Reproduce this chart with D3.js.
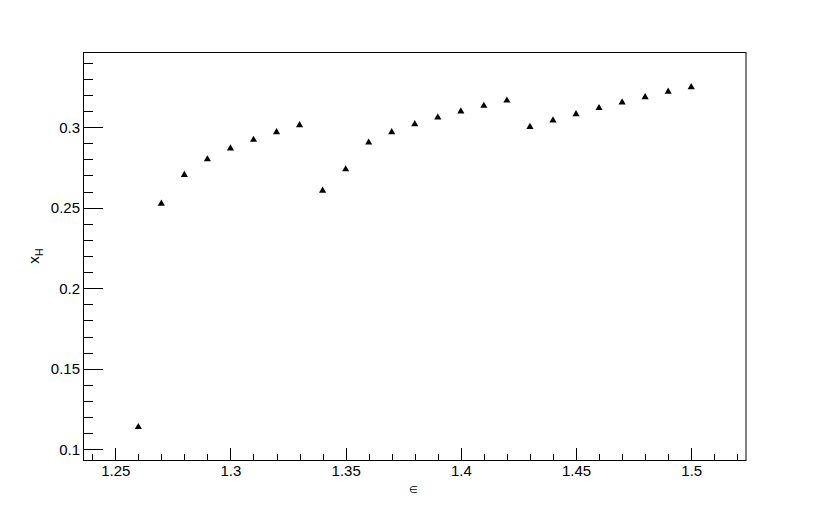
<!DOCTYPE html>
<meta charset='utf-8'>
<head>
  <style>
    body { margin: 0; background: #fff; }
    svg { display: block; }
    .axis text { font: 15px 'Liberation Sans', Arial, sans-serif; fill: #000; }
    .axis path, .axis line { fill: none; stroke: #000; stroke-width: 1; shape-rendering: crispEdges; }
    .title { font: 15px 'Liberation Sans', Arial, sans-serif; fill: #000; }
  </style>
</head>
<body>
<script src='https://d3js.org/d3.v7.min.js'></script>
<script>

// epsilon values (x) and x_H values (y)
var eps = [1.26, 1.27, 1.28, 1.29, 1.30, 1.31, 1.32, 1.33, 1.34, 1.35, 1.36, 1.37, 1.38,
           1.39, 1.40, 1.41, 1.42, 1.43, 1.44, 1.45, 1.46, 1.47, 1.48, 1.49, 1.50];
var xH = [0.1144, 0.2531, 0.2710, 0.2807, 0.2875, 0.2928, 0.2975, 0.3019, 0.2612, 0.2745,
          0.2911, 0.2975, 0.3025, 0.3067, 0.3104, 0.3139, 0.3172, 0.3008, 0.3048, 0.3087,
          0.3125, 0.3160, 0.3193, 0.3227, 0.3255];

var xTicks = [1.25, 1.3, 1.35, 1.4, 1.45, 1.5];
var yTicks = [0.1, 0.15, 0.2, 0.25, 0.3];

var W = 830, H = 511;
var frame = {left: 83, top: 52, right: 746.5, bottom: 460};

var x = d3.scaleLinear().domain([1.236, 1.524]).range([frame.left, frame.right]),
    y = d3.scaleLinear().domain([0.0933, 0.3467]).range([frame.bottom, frame.top]);

var svg = d3.select('body').append('svg')
    .attr('width', W)
    .attr('height', H);

// minor ticks
var isMajor = (list, v) => list.some(t => Math.abs(t - v) < 1e-9);

svg.append('g')
    .attr('class', 'x axis')
    .attr('transform', 'translate(0,' + frame.bottom + ')')
    .call(d3.axisBottom(x).tickValues(x.ticks(30).filter(v => !isMajor(xTicks, v)))
      .tickSize(-6).tickFormat(''))
    .select('.domain').remove();

svg.append('g')
    .attr('class', 'y axis')
    .attr('transform', 'translate(' + frame.left + ',0)')
    .call(d3.axisLeft(y).tickValues(y.ticks(25).filter(v => !isMajor(yTicks, v)))
      .tickSize(-10).tickFormat(''))
    .select('.domain').remove();

// major ticks with labels
svg.append('g')
    .attr('class', 'x axis')
    .attr('transform', 'translate(0,' + frame.bottom + ')')
    .call(d3.axisBottom(x).tickValues(xTicks).tickSize(-12).tickPadding(5)
      .tickFormat(d => String(d)))
    .select('.domain').remove();

svg.append('g')
    .attr('class', 'y axis')
    .attr('transform', 'translate(' + frame.left + ',0)')
    .call(d3.axisLeft(y).tickValues(yTicks).tickSize(-20).tickPadding(3)
      .tickFormat(d => String(d)))
    .select('.domain').remove();

// frame
svg.append('rect')
    .attr('x', frame.left + 0.5)
    .attr('y', frame.top + 0.5)
    .attr('width', frame.right - frame.left - 1)
    .attr('height', frame.bottom - frame.top)
    .style('fill', 'none')
    .style('stroke', '#000')
    .style('stroke-width', 1);

// points
var tri = d3.symbol().type(d3.symbolTriangle).size(22);
svg.append('g').selectAll('path')
    .data(eps.map((e, i) => [e, xH[i]]))
  .enter().append('path')
    .attr('d', tri)
    .attr('transform', d => 'translate(' + x(d[0]) + ',' + (y(d[1]) + 1) + ')')
    .style('fill', '#000');

// axis titles
svg.append('text')
    .attr('class', 'title')
    .attr('x', (frame.left + frame.right) / 2 - 1)
    .attr('y', 493)
    .style('text-anchor', 'middle')
    .style('font-size', '10px')
    .text('\u2208');

var yt = svg.append('text')
    .attr('class', 'title')
    .attr('transform', 'translate(39,256) rotate(-90)')
    .style('text-anchor', 'middle');
yt.append('tspan').text('x');
yt.append('tspan').attr('dy', 4).style('font-size', '11px').text('H');

</script>
</body>
